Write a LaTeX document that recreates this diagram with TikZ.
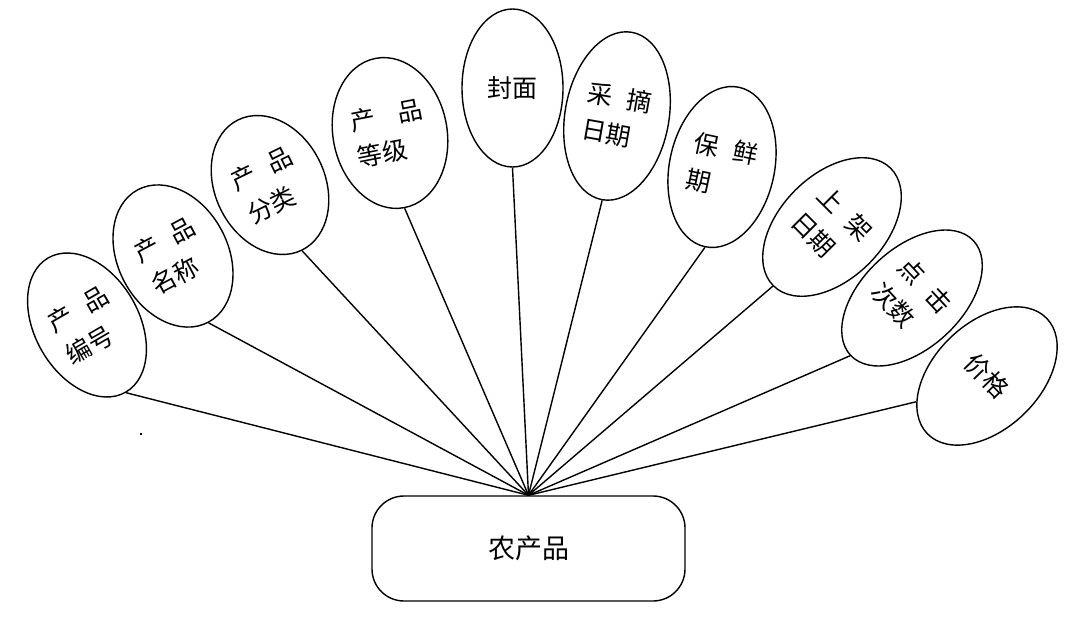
\documentclass[tikz,border=0pt]{standalone}
\usepackage{fontspec}
\setmainfont{Noto Sans CJK SC}
\usetikzlibrary{shapes.geometric}
\begin{document}
\begin{tikzpicture}[x=1pt,y=-1pt,
  attr/.style={draw, ellipse, line width=1.4pt, inner sep=0pt, align=left,
    font=\fontsize{25}{37}\selectfont},
  entity/.style={draw, rectangle, rounded corners=32pt, line width=1.4pt,
    minimum width=313pt, minimum height=105pt, font=\fontsize{27}{30}\selectfont},
  link/.style={line width=1.4pt}]
\useasboundingbox (0,0) rectangle (1091,617);
\node[entity] (main) at (528.5,548.5) {农产品};
\node[attr, minimum width=104pt, minimum height=155pt, rotate=30] (e1) at (87,325) {产\hspace{0.6em}品\\编号};
\node[attr, minimum width=110pt, minimum height=150pt, rotate=28] (e2) at (173,256) {产\hspace{0.6em}品\\名称};
\node[attr, minimum width=110pt, minimum height=145pt, rotate=26] (e3) at (270,185) {产\hspace{0.6em}品\\分类};
\node[attr, minimum width=114pt, minimum height=152pt, rotate=11] (e4) at (390,133) {产\hspace{0.9em}品\\等级};
\node[attr, minimum width=101pt, minimum height=158pt] (e5) at (512.5,88) {封面};
\node[attr, minimum width=104pt, minimum height=170pt, rotate=-10] (e6) at (617,116) {采\hspace{0.6em}摘\\日期};
\node[attr, minimum width=105pt, minimum height=163pt, rotate=-12] (e7) at (722,167) {保\hspace{0.6em}鲜\\期};
\node[attr, minimum width=104pt, minimum height=166pt, rotate=-45] (e8) at (832,227) {上\hspace{0.6em}架\\日期};
\node[attr, minimum width=100pt, minimum height=168pt, rotate=-47] (e9) at (912,298) {点\hspace{0.6em}击\\次数};
\node[attr, minimum width=106pt, minimum height=166pt, rotate=-46] (e10) at (987,376) {价格};
\fill (140,433) rectangle (142,435);
\foreach \e in {e1,e2,e3,e4,e5,e6,e7,e8,e9}
  \draw[link] (main.north) -- (\e.south);
\draw[link] (main.north) -- (e10.246);
\end{tikzpicture}
\end{document}
